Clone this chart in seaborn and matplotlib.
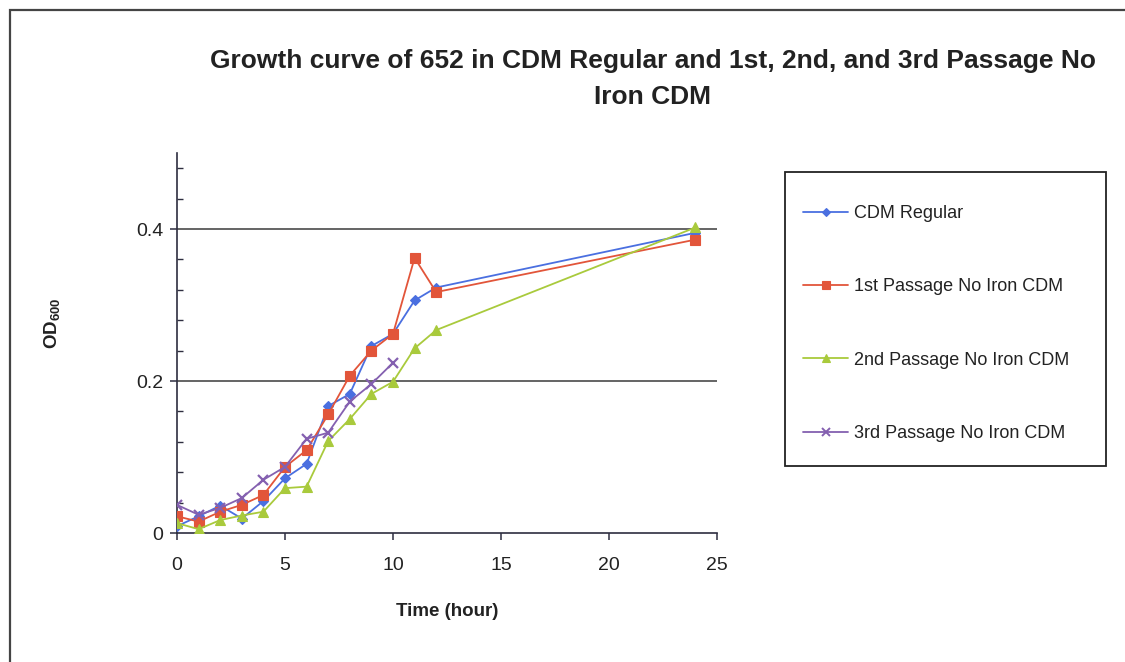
import numpy as np
import pandas as pd
import matplotlib
matplotlib.use("Agg")
import matplotlib.pyplot as plt
import seaborn as sns
from matplotlib.ticker import MultipleLocator
from matplotlib.patches import Rectangle
from matplotlib.lines import Line2D

# ---- data ----
time = [0, 1, 2, 3, 4, 5, 6, 7, 8, 9, 10, 11, 12, 24]
cdm_regular = [0.009, 0.022, 0.036, 0.019, 0.042, 0.072, 0.091, 0.167, 0.183, 0.246, 0.262, 0.306, 0.323, 0.395]
passage_1 = [0.022, 0.015, 0.028, 0.037, 0.050, 0.087, 0.109, 0.156, 0.207, 0.240, 0.262, 0.362, 0.317, 0.386]
passage_2 = [0.013, 0.005, 0.017, 0.023, 0.028, 0.059, 0.061, 0.121, 0.150, 0.183, 0.199, 0.243, 0.267, 0.402]
time_3 = [0, 1, 2, 3, 4, 5, 6, 7, 8, 9, 10]
passage_3 = [0.037, 0.024, 0.033, 0.046, 0.070, 0.087, 0.124, 0.132, 0.173, 0.196, 0.224]

series_names = ["CDM Regular", "1st Passage No Iron CDM",
                "2nd Passage No Iron CDM", "3rd Passage No Iron CDM"]
title_text = "Growth curve of 652 in CDM Regular and 1st, 2nd, and 3rd Passage No\nIron CDM"

frames = [
    pd.DataFrame({"Time": time, "OD": cdm_regular, "Series": series_names[0]}),
    pd.DataFrame({"Time": time, "OD": passage_1, "Series": series_names[1]}),
    pd.DataFrame({"Time": time, "OD": passage_2, "Series": series_names[2]}),
    pd.DataFrame({"Time": time_3, "OD": passage_3, "Series": series_names[3]}),
]
df = pd.concat(frames, ignore_index=True)

colors = {series_names[0]: "#4A6FE0", series_names[1]: "#E2553A",
          series_names[2]: "#A9CA3C", series_names[3]: "#8460B0"}
markers = {series_names[0]: "D", series_names[1]: "s",
           series_names[2]: "^", series_names[3]: "x"}
msizes = {series_names[0]: 5.5, series_names[1]: 7,
          series_names[2]: 7, series_names[3]: 7.5}

sns.set_theme(style="white")
plt.rcParams["font.family"] = ["Liberation Sans", "DejaVu Sans"]
plt.rcParams["mathtext.fontset"] = "custom"
plt.rcParams["mathtext.rm"] = "Liberation Sans"
plt.rcParams["mathtext.bf"] = "Liberation Sans:bold"

W, H = 1125, 662
fig = plt.figure(figsize=(W / 100, H / 100), dpi=100)
fig.patch.set_facecolor("white")

ax_l, ax_r, ax_t, ax_b = 177, 717, 153, 533
ax = fig.add_axes([ax_l / W, 1 - ax_b / H, (ax_r - ax_l) / W, (ax_b - ax_t) / H])

for name in series_names:
    sub = df[df["Series"] == name]
    sns.lineplot(data=sub, x="Time", y="OD", ax=ax, color=colors[name],
                 marker=markers[name], markersize=msizes[name],
                 markeredgecolor=colors[name],
                 markeredgewidth=1.6 if markers[name] == "x" else 0.8,
                 linewidth=1.3, label=name, legend=False, zorder=3)

ax.set_xlim(0, 25)
ax.set_ylim(0, 0.5)
ax.xaxis.set_major_locator(MultipleLocator(5))
ax.yaxis.set_major_locator(MultipleLocator(0.2))
ax.yaxis.set_minor_locator(MultipleLocator(0.04))
ax.set_yticks([0, 0.2, 0.4])
ax.set_yticklabels(["0", "0.2", "0.4"])

ax.grid(False)
for yv in [0.2, 0.4]:
    ax.axhline(yv, color="#3a3a3a", linewidth=1.1, zorder=1)

for s in ["top", "right"]:
    ax.spines[s].set_visible(False)
for s in ["left", "bottom"]:
    ax.spines[s].set_color("#2e2e40")
    ax.spines[s].set_linewidth(1.2)

ax.tick_params(axis="both", which="major", labelsize=14, colors="#2e2e40",
               labelcolor="#222222", length=5, width=1.1, direction="out")
ax.tick_params(axis="x", which="major", pad=12, bottom=True)
ax.tick_params(axis="y", which="major", pad=5, left=True)
ax.tick_params(axis="y", which="minor", direction="in", length=4, width=1.0,
               left=True, colors="#2e2e40")

ax.set_xlabel("Time (hour)", fontsize=13.5, fontweight="bold", color="#222222")
ax.xaxis.set_label_coords(0.5, -(603 - ax_b) / (ax_b - ax_t))
ax.set_ylabel(r"$\mathbf{OD_{600}}$", fontsize=13.5, color="#222222")
ax.yaxis.set_label_coords(-(ax_l - 62) / (ax_r - ax_l), (ax_b - 323) / (ax_b - ax_t))

# title
fig.text(653 / W, 1 - 79 / H, title_text, ha="center", va="center",
         fontsize=19, fontweight="bold", color="#222222", linespacing=1.6)

# outer border
fig.patches.append(Rectangle((10 / W, -0.05), 1.1, 1 - 10 / H + 0.05,
                             transform=fig.transFigure, fill=False,
                             edgecolor="#444444", linewidth=1.6, zorder=0))

# legend box
lb_l, lb_r, lb_t, lb_b = 785, 1106, 172, 466
fig.patches.append(Rectangle((lb_l / W, 1 - lb_b / H), (lb_r - lb_l) / W,
                             (lb_b - lb_t) / H, transform=fig.transFigure,
                             fill=True, facecolor="white", edgecolor="#222222",
                             linewidth=1.3, zorder=1))
handles = [Line2D([], [], color=colors[n], marker=markers[n],
                  markersize=msizes[n] * 0.8, linewidth=1.3,
                  markeredgewidth=1.4 if markers[n] == "x" else 0.8)
           for n in series_names]
leg = fig.legend(handles, series_names, loc="upper left",
                 bbox_to_anchor=(803 / W, 1 - 205 / H), frameon=False,
                 fontsize=13, handlelength=2.5, handletextpad=0.35,
                 labelspacing=3.12, borderpad=0, borderaxespad=0)
for t in leg.get_texts():
    t.set_color("#222222")

fig.savefig("out.png", dpi=100, facecolor="white")
